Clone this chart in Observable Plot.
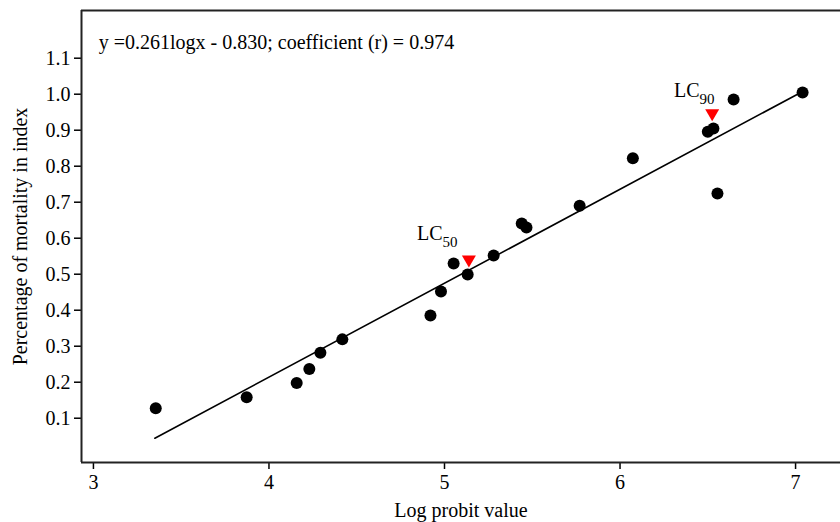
<!DOCTYPE html>
<html>
<head>
<meta charset="utf-8">
<script src="https://cdn.jsdelivr.net/npm/d3@7"></script>
<script src="https://cdn.jsdelivr.net/npm/@observablehq/plot@0.6"></script>
<style>
  html, body { margin: 0; padding: 0; background: #fff; }
</style>
</head>
<body>
<div id="chart"></div>
<script>
// Observed points (log probit value, percentage of mortality in index)
const logProbit = [3.355, 3.873, 4.158, 4.23, 4.293, 4.418, 4.92, 4.98, 5.052, 5.132,
                   5.28, 5.44, 5.467, 5.77, 6.073, 6.5, 6.532, 6.555, 6.647, 7.04];
const mortality = [0.128, 0.158, 0.198, 0.237, 0.282, 0.319, 0.385, 0.452, 0.530, 0.499,
                   0.552, 0.641, 0.630, 0.690, 0.822, 0.896, 0.905, 0.724, 0.985, 1.005];

// Regression fit
const slope = 0.261;
const intercept = -0.830;
const fitRange = [3.35, 7.03];
const equationText = "y =0.261logx - 0.830; coefficient (r) = 0.974";

// Lethal concentration markers
const lcNames = ["LC", "LC"];
const lcSubs = ["50", "90"];
const lcX = [5.139, 6.525];
const lcY = [0.541, 0.947];
const lcLabelX = [4.989, 6.453];
const lcLabelY = [0.613, 1.010];

const xTicks = [3, 4, 5, 6, 7];
const yTicks = [0.1, 0.2, 0.3, 0.4, 0.5, 0.6, 0.7, 0.8, 0.9, 1.0, 1.1];
const xDomain = [2.932, 7.256];
const yDomain = [-0.023, 1.2325];

const points = logProbit.map((x, i) => ({x, y: mortality[i]}));
const fitLine = fitRange.map(x => ({x, y: slope * x + intercept}));
const lcs = lcX.map((x, i) => ({x, y: lcY[i], name: lcNames[i], sub: lcSubs[i], lx: lcLabelX[i], ly: lcLabelY[i]}));

const font = "'Liberation Serif', 'Times New Roman', Times, serif";

const chart = Plot.plot({
  width: 840,
  height: 522,
  marginLeft: 81,
  marginRight: 0,
  marginTop: 10,
  marginBottom: 60,
  style: {fontFamily: font, fontSize: "20px", color: "#000", background: "#fff"},
  x: {domain: xDomain},
  y: {domain: yDomain},
  marks: [
    Plot.axisX({ticks: xTicks, tickFormat: d => String(d), tickSize: 7, tickPadding: 5, strokeWidth: 1.5,
      label: "Log probit value", labelAnchor: "center", labelArrow: "none", labelOffset: 54}),
    Plot.axisY({ticks: yTicks, tickFormat: d => d.toFixed(1), tickSize: 7, tickPadding: 4, strokeWidth: 1.5,
      label: "Percentage of mortality in index", labelAnchor: "center", labelArrow: "none", labelOffset: 69}),
    Plot.ruleY([yDomain[0], yDomain[1]], {stroke: "#222", strokeWidth: 2}),
    Plot.ruleX([xDomain[0]], {stroke: "#222", strokeWidth: 2}),
    Plot.line(fitLine, {x: "x", y: "y", stroke: "#000", strokeWidth: 1.6}),
    Plot.dot(points, {x: "x", y: "y", r: 6, fill: "#000", stroke: "none"}),
    Plot.dot(lcs, {x: "x", y: "y", symbol: "triangle", rotate: 180, r: 5.2, fill: "#ff0000", stroke: "none"}),
    Plot.text(lcs, {x: "lx", y: "ly", text: "name", textAnchor: "end", fontSize: 20, fill: "#000"}),
    Plot.text(lcs, {x: "lx", y: "ly", text: "sub", textAnchor: "start", dy: 8.5, fontSize: 15, fill: "#000"}),
    Plot.text([equationText], {x: 3.03, y: 1.144, text: d => d, textAnchor: "start", fontSize: 20, fill: "#000"})
  ]
});

document.getElementById("chart").appendChild(chart);
</script>
</body>
</html>
